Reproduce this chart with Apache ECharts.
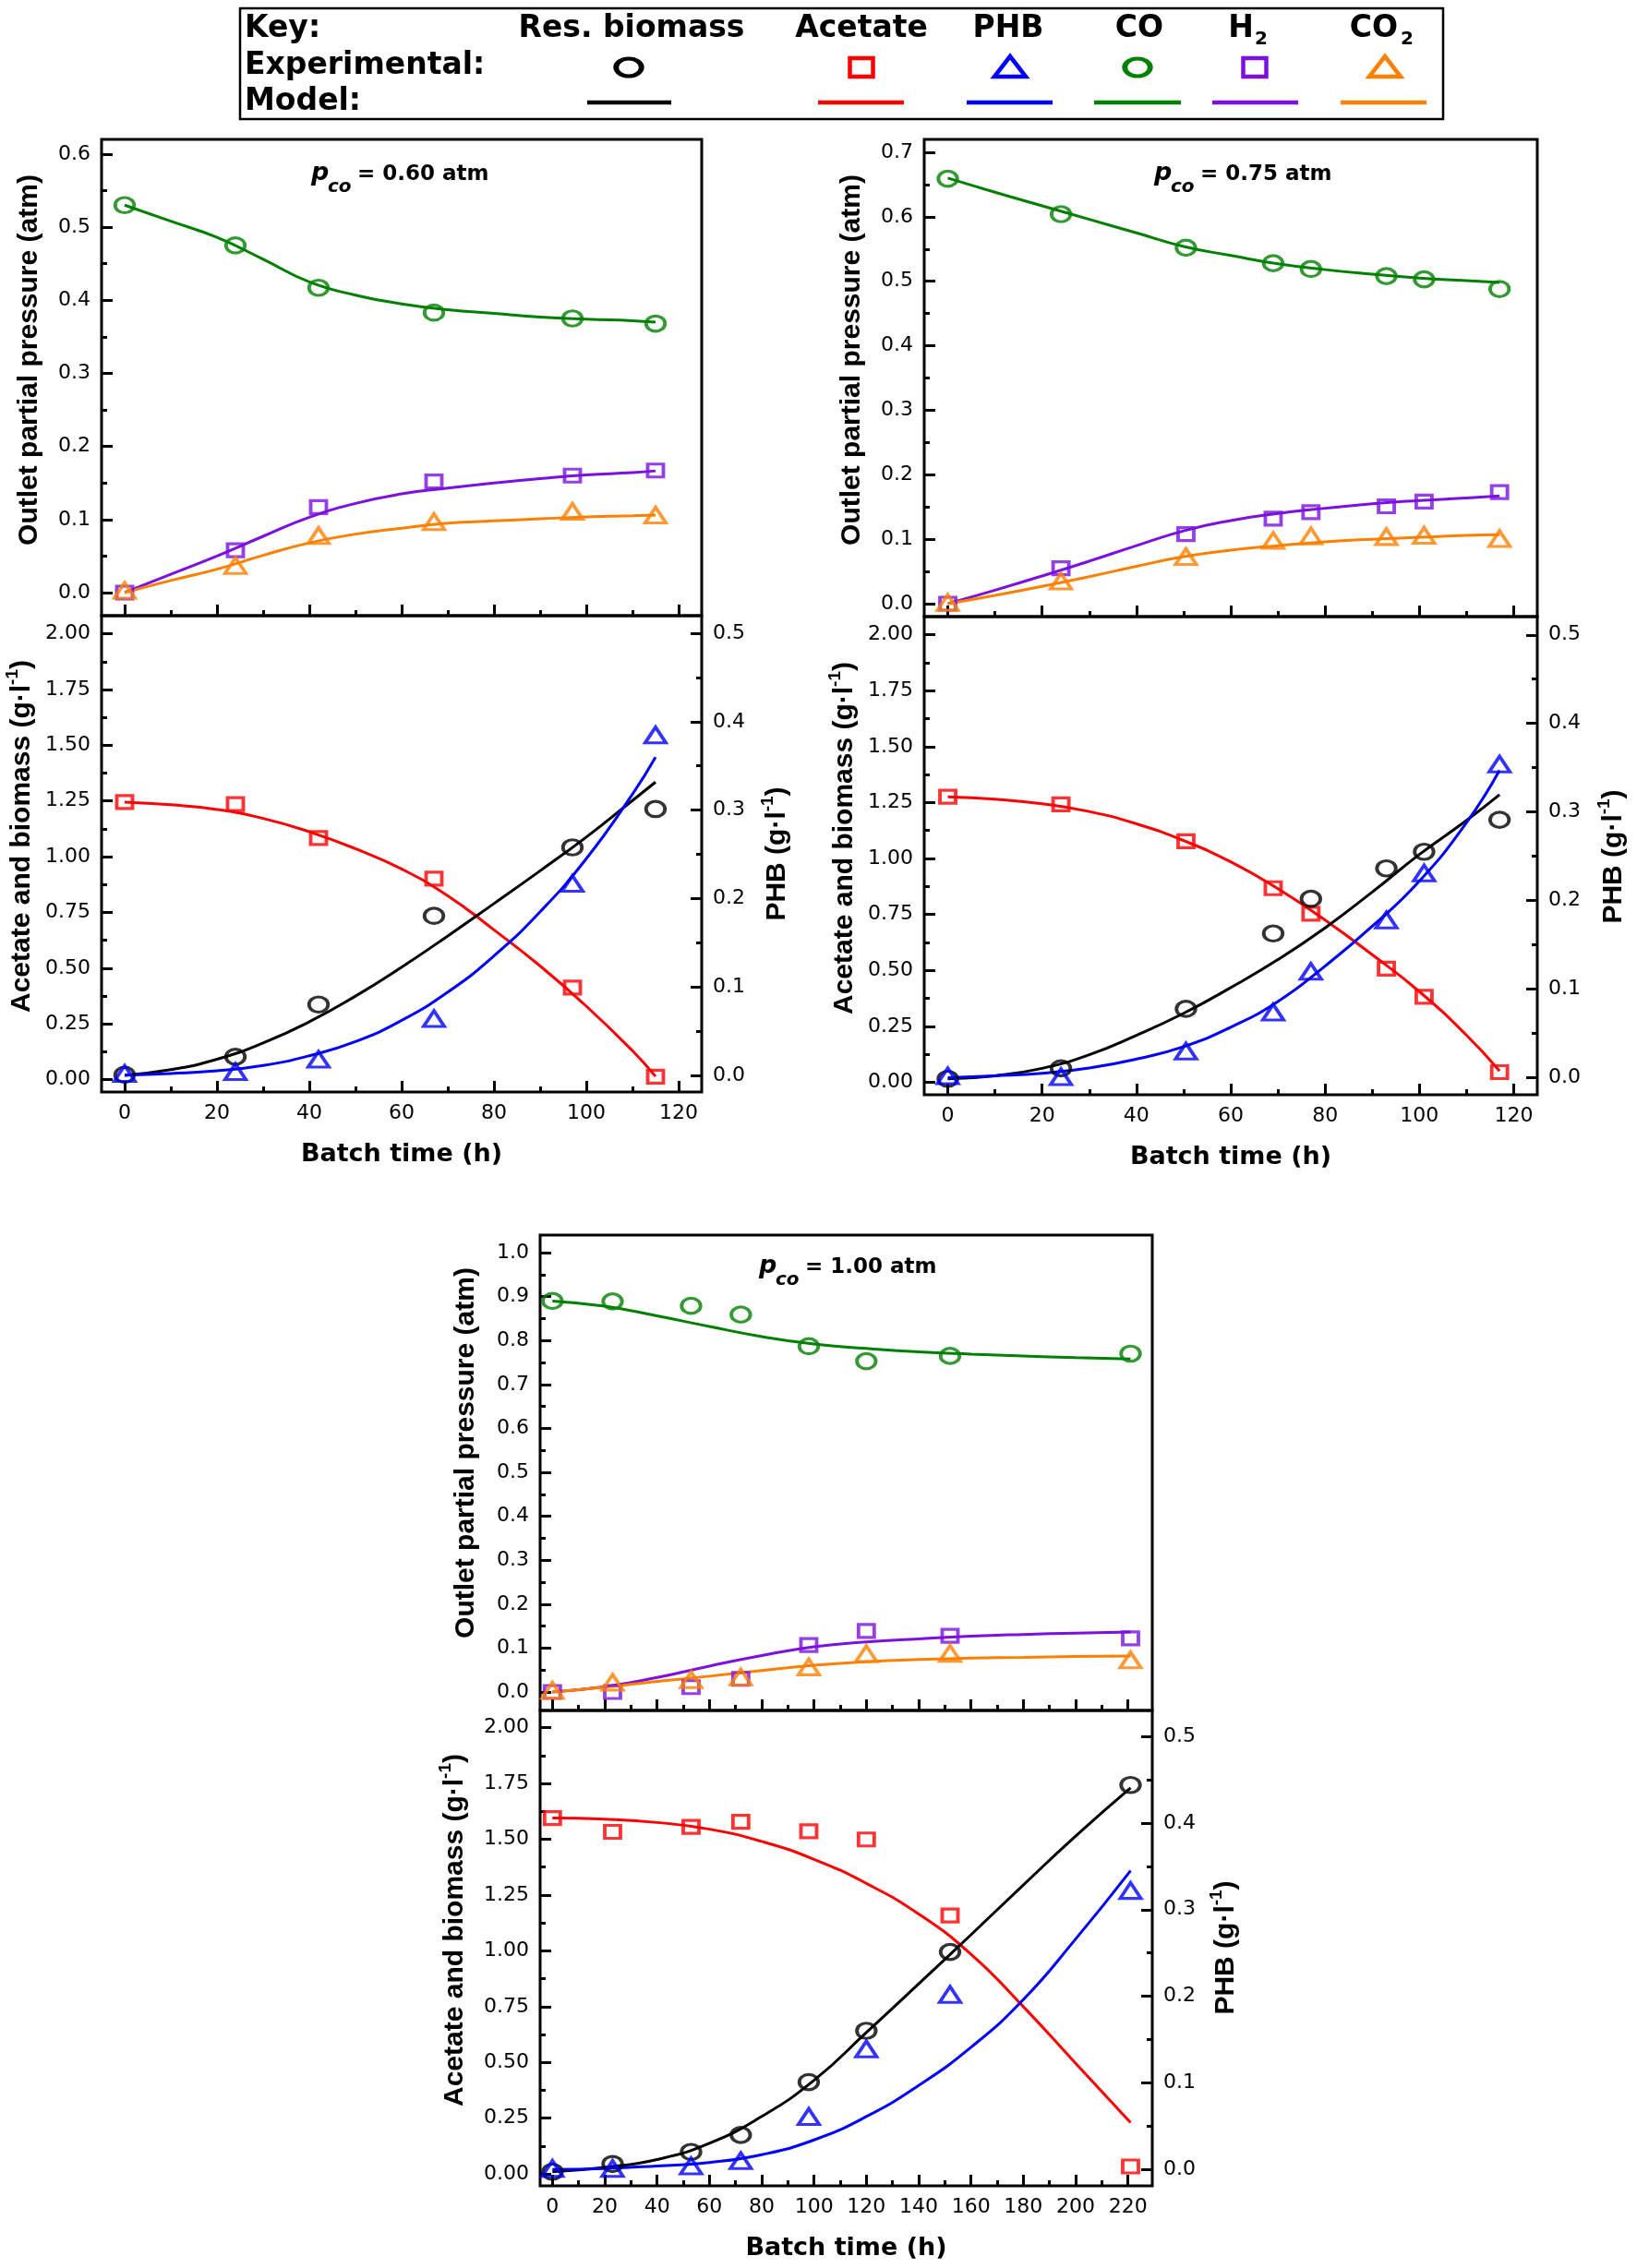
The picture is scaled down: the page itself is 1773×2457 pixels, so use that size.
<!DOCTYPE html>
<html><head><meta charset="utf-8">
<script src="https://cdn.jsdelivr.net/npm/echarts@6/dist/echarts.min.js"></script>
<style>html,body{margin:0;padding:0;background:#fff}#c{width:1773px;height:2457px}</style>
</head><body><div id="c"></div>
<script>
// ================= DATA =================
const pcoLabels = ['0.60', '0.75', '1.00'];

// ---- p_CO = 0.60 atm ----
const expT060 = [0, 24, 42, 67, 97, 115];
const expCO060 = [0.530, 0.475, 0.417, 0.383, 0.375, 0.368];
const expH2060 = [0.000, 0.058, 0.117, 0.152, 0.160, 0.167];
const expCO2060 = [0.003, 0.037, 0.078, 0.097, 0.111, 0.106];
const expAc060 = [1.245, 1.236, 1.084, 0.902, 0.413, 0.014];
const expBio060 = [0.022, 0.103, 0.337, 0.735, 1.042, 1.214];
const expPHB060 = [0.002, 0.004, 0.018, 0.064, 0.217, 0.385];
const modT060 = [0, 10, 20, 30, 40, 50, 60, 70, 80, 90, 100, 110, 115];
const modCO060 = [0.530, 0.508, 0.486, 0.456, 0.425, 0.407, 0.395, 0.387, 0.382, 0.377, 0.374, 0.372, 0.370];
const modH2060 = [0, 0.025, 0.050, 0.077, 0.103, 0.122, 0.135, 0.143, 0.150, 0.156, 0.161, 0.164, 0.1665];
const modCO2060 = [0, 0.0165, 0.032, 0.051, 0.068, 0.080, 0.088, 0.095, 0.098, 0.101, 0.1035, 0.105, 0.106];
const modAc060 = [1.245, 1.233, 1.212, 1.172, 1.112, 1.036, 0.945, 0.825, 0.672, 0.510, 0.330, 0.130, 0.015];
const modBio060 = [0.020, 0.045, 0.092, 0.165, 0.260, 0.375, 0.505, 0.645, 0.790, 0.937, 1.088, 1.252, 1.335];
const modPHB060 = [0.000, 0.002, 0.005, 0.011, 0.022, 0.038, 0.062, 0.094, 0.135, 0.185, 0.245, 0.318, 0.360];

// ---- p_CO = 0.75 atm ----
const expT075 = [0, 24, 50.5, 69, 77, 93, 101, 117];
const expCO075 = [0.659, 0.604, 0.552, 0.528, 0.519, 0.508, 0.503, 0.488];
const expH2075 = [0.000, 0.055, 0.108, 0.132, 0.142, 0.151, 0.1585, 0.173];
const expCO2075 = [0.002, 0.035, 0.073, 0.098, 0.105, 0.104, 0.106, 0.101];
const expAc075 = [1.276, 1.242, 1.077, 0.867, 0.753, 0.508, 0.382, 0.045];
const expBio075 = [0.015, 0.062, 0.328, 0.665, 0.820, 0.956, 1.030, 1.173];
const expPHB075 = [0.002, 0.001, 0.030, 0.074, 0.120, 0.178, 0.231, 0.354];
const modT075 = [0, 10, 20, 30, 40, 50, 60, 70, 80, 90, 100, 110, 117];
const modCO075 = [0.660, 0.638, 0.617, 0.596, 0.575, 0.554, 0.540, 0.527, 0.518, 0.511, 0.505, 0.501, 0.498];
const modH2075 = [0, 0.021, 0.043, 0.066, 0.090, 0.113, 0.129, 0.140, 0.148, 0.155, 0.160, 0.164, 0.167];
const modCO2075 = [0, 0.013, 0.027, 0.042, 0.058, 0.073, 0.083, 0.090, 0.096, 0.100, 0.103, 0.106, 0.107];
const modAc075 = [1.276, 1.265, 1.245, 1.210, 1.155, 1.080, 0.985, 0.865, 0.725, 0.570, 0.405, 0.210, 0.050];
const modBio075 = [0.015, 0.029, 0.062, 0.123, 0.210, 0.308, 0.423, 0.548, 0.690, 0.850, 1.018, 1.170, 1.285];
const modPHB075 = [0, 0.002, 0.005, 0.011, 0.021, 0.035, 0.057, 0.086, 0.126, 0.171, 0.222, 0.288, 0.347];

// ---- p_CO = 1.00 atm ----
const expT100 = [0, 23, 53, 72, 98, 120, 152, 221];
const expCO100 = [0.890, 0.889, 0.879, 0.859, 0.787, 0.753, 0.765, 0.770];
const expH2100 = [0.000, 0.000, 0.011, 0.030, 0.107, 0.139, 0.128, 0.122];
const expCO2100 = [0.004, 0.022, 0.028, 0.034, 0.057, 0.087, 0.088, 0.073];
const expAc100 = [1.595, 1.533, 1.555, 1.578, 1.536, 1.499, 1.158, 0.034];
const expBio100 = [0.010, 0.045, 0.099, 0.175, 0.412, 0.642, 0.995, 1.743];
const expPHB100 = [0.001, 0.001, 0.004, 0.010, 0.061, 0.139, 0.202, 0.322];
const modT100 = [0, 20, 40, 60, 80, 100, 120, 140, 160, 180, 200, 221];
const modCO100 = [0.890, 0.878, 0.856, 0.832, 0.809, 0.792, 0.782, 0.774, 0.769, 0.765, 0.761, 0.758];
const modH2100 = [0, 0.012, 0.033, 0.059, 0.083, 0.103, 0.114, 0.121, 0.127, 0.131, 0.134, 0.1365];
const modCO2100 = [0, 0.011, 0.024, 0.036, 0.049, 0.061, 0.069, 0.074, 0.077, 0.079, 0.081, 0.082];
const modAc100 = [1.595, 1.590, 1.575, 1.545, 1.490, 1.410, 1.302, 1.165, 0.985, 0.750, 0.496, 0.230];
const modBio100 = [0.010, 0.030, 0.065, 0.138, 0.258, 0.420, 0.634, 0.852, 1.072, 1.295, 1.514, 1.730];
const modPHB100 = [0, 0.001, 0.004, 0.008, 0.017, 0.034, 0.061, 0.097, 0.141, 0.196, 0.266, 0.345];

// ---- tick values ----
const xTicks120 = [0, 20, 40, 60, 80, 100, 120];
const xMinor120 = [10, 30, 50, 70, 90, 110];
const xTicks220 = [0, 20, 40, 60, 80, 100, 120, 140, 160, 180, 200, 220];
const xMinor220 = [10, 30, 50, 70, 90, 110, 130, 150, 170, 190, 210];
const yTicks060 = [0, 0.1, 0.2, 0.3, 0.4, 0.5, 0.6];
const yMinor060 = [0.05, 0.15, 0.25, 0.35, 0.45, 0.55];
const yTicks075 = [0, 0.1, 0.2, 0.3, 0.4, 0.5, 0.6, 0.7];
const yMinor075 = [0.05, 0.15, 0.25, 0.35, 0.45, 0.55, 0.65];
const yTicks100 = [0, 0.1, 0.2, 0.3, 0.4, 0.5, 0.6, 0.7, 0.8, 0.9, 1.0];
const yMinor100 = [0.05, 0.15, 0.25, 0.35, 0.45, 0.55, 0.65, 0.75, 0.85, 0.95];
const yTicksAcBio = [0, 0.25, 0.5, 0.75, 1.0, 1.25, 1.5, 1.75, 2.0];
const yMinorAcBio = [0.125, 0.375, 0.625, 0.875, 1.125, 1.375, 1.625, 1.875];
const yTicksPHB = [0, 0.1, 0.2, 0.3, 0.4, 0.5];
const yMinorPHB = [0.05, 0.15, 0.25, 0.35, 0.45];

// ---- texts ----
const txtOutlet = 'Outlet partial pressure (atm)';
const txtAcBio = 'Acetate and biomass (g·l';
const txtPHB = 'PHB (g·l';
const txtBatch = 'Batch time (h)';
const keyHeaders = ['Res. biomass', 'Acetate', 'PHB', 'CO', 'H', 'CO'];

// ================= STYLE / LAYOUT =================
const FONT = 'DejaVu Sans';
const TFONT = 'Liberation Sans';
const COL = { bio: '#000000', ac: '#ff0000', phb: '#0000ff', co: '#008000', h2: '#7b10e0', co2: '#ff8000' };
const SYM = { circle: [20.5, 16.5], rect: [17, 14], triangle: [22.5, 17] };

const PANELS = [
  { exp: { t: expT060, co: expCO060, h2: expH2060, co2: expCO2060, ac: expAc060, bio: expBio060, phb: expPHB060 },
    mod: { t: modT060, co: modCO060, h2: modH2060, co2: modCO2060, ac: modAc060, bio: modBio060, phb: modPHB060 },
    xT: xTicks120, xM: xMinor120, yT: yTicks060, yM: yMinor060 },
  { exp: { t: expT075, co: expCO075, h2: expH2075, co2: expCO2075, ac: expAc075, bio: expBio075, phb: expPHB075 },
    mod: { t: modT075, co: modCO075, h2: modH2075, co2: modCO2075, ac: modAc075, bio: modBio075, phb: modPHB075 },
    xT: xTicks120, xM: xMinor120, yT: yTicks075, yM: yMinor075 },
  { exp: { t: expT100, co: expCO100, h2: expH2100, co2: expCO2100, ac: expAc100, bio: expBio100, phb: expPHB100 },
    mod: { t: modT100, co: modCO100, h2: modH2100, co2: modCO2100, ac: modAc100, bio: modBio100, phb: modPHB100 },
    xT: xTicks220, xM: xMinor220, yT: yTicks100, yM: yMinor100 }
];

const LAYOUT = [
  { left: 110, width: 650, top: 151, mid: 667, bottom: 1183, x: [-5, 125], yTop: [-0.0316, 0.620], yL: [-0.055, 2.081], yR: [-0.019, 0.520],
    title: [337, 197], outlet: [32, 390], acet: [24, 906], phb: [842, 925] },
  { left: 1001, width: 664, top: 151, mid: 668, bottom: 1186, x: [-5, 125], yTop: [-0.020, 0.720], yL: [-0.056, 2.081], yR: [-0.0193, 0.5206],
    title: [1250, 197], outlet: [923, 390], acet: [915, 908], phb: [1748, 928] },
  { left: 585, width: 663, top: 1338, mid: 1853, bottom: 2368, x: [-4.7, 229.3], yTop: [-0.042, 1.040], yL: [-0.053, 2.077], yR: [-0.019, 0.530],
    title: [822, 1381], outlet: [505, 1574], acet: [493, 2091], phb: [1328, 2110] }
];

// ================= BUILD =================
const grids = [], xAxes = [], yAxes = [], series = [], gfx = [];
const zip = (xs, ys) => xs.map((x, i) => [x, ys[i]]);

function addAxis(kind, gridIndex, range, majors, minors, o) {
  const base = {
    type: 'value', gridIndex, min: range[0], max: range[1], position: o.position,
    axisLine: { show: false, onZero: false }, splitLine: { show: false }, minorTick: { show: false },
    axisPointer: { show: false }, silent: true
  };
  const main = Object.assign({}, base, {
    axisTick: { show: true, inside: true, length: 12, lineStyle: { color: '#000', width: 3 }, customValues: majors },
    axisLabel: { show: !!o.labels, customValues: majors, formatter: o.fmt, fontFamily: FONT, fontSize: 22, color: '#000', margin: 12 }
  }, o.extra || {});
  const minor = Object.assign({}, base, {
    axisTick: { show: true, inside: true, length: 6, lineStyle: { color: '#000', width: 3 }, customValues: minors },
    axisLabel: { show: false }
  });
  const arr = kind === 'x' ? xAxes : yAxes;
  arr.push(main);
  const idx = arr.length - 1;
  arr.push(minor);
  return idx;
}
function lineS(xi, yi, T, V, color) {
  return { type: 'line', xAxisIndex: xi, yAxisIndex: yi, data: zip(T, V), smooth: 0.5,
    showSymbol: false, symbol: 'none', lineStyle: { color, width: 3 }, z: 2, silent: true, animation: false };
}
function scatS(xi, yi, T, V, color, shape) {
  return { type: 'scatter', xAxisIndex: xi, yAxisIndex: yi, data: zip(T, V), symbol: shape, symbolSize: SYM[shape],
    itemStyle: { color: 'rgba(0,0,0,0)', borderColor: color, borderWidth: 3.5 }, z: 3, clip: false, silent: true, animation: false };
}
function T(x, y, text, s, extra) {
  const st = Object.assign({ text, fill: '#000', fontFamily: FONT, fontSize: 21, align: 'left', verticalAlign: 'middle',
    textAlign: s && s.align || 'left', textVerticalAlign: 'middle' }, s || {});
  return Object.assign({ type: 'text', x, y, silent: true, style: st, z: 10 }, extra || {});
}
const fmt1 = v => v.toFixed(1), fmt2 = v => v.toFixed(2), fmt0 = v => String(Math.round(v));

PANELS.forEach((P, i) => {
  const L = LAYOUT[i];
  // top pane (gases)
  const gTop = grids.length;
  grids.push({ left: L.left, top: L.top, width: L.width, height: L.mid - L.top, show: true, borderColor: '#000', borderWidth: 3, backgroundColor: 'transparent' });
  const xTop = addAxis('x', gTop, L.x, P.xT, P.xM, { position: 'bottom', labels: false });
  const yTop = addAxis('y', gTop, L.yTop, P.yT, P.yM, { position: 'left', labels: true, fmt: fmt1 });
  series.push(lineS(xTop, yTop, P.mod.t, P.mod.co, COL.co));
  series.push(lineS(xTop, yTop, P.mod.t, P.mod.h2, COL.h2));
  series.push(lineS(xTop, yTop, P.mod.t, P.mod.co2, COL.co2));
  series.push(scatS(xTop, yTop, P.exp.t, P.exp.co, COL.co, 'circle'));
  series.push(scatS(xTop, yTop, P.exp.t, P.exp.h2, COL.h2, 'rect'));
  series.push(scatS(xTop, yTop, P.exp.t, P.exp.co2, COL.co2, 'triangle'));
  // bottom pane (liquid)
  const gBot = grids.length;
  grids.push({ left: L.left, top: L.mid, width: L.width, height: L.bottom - L.mid, show: true, borderColor: '#000', borderWidth: 3, backgroundColor: 'transparent' });
  const xBot = addAxis('x', gBot, L.x, P.xT, P.xM, { position: 'bottom', labels: true, fmt: fmt0,
    extra: { name: txtBatch, nameLocation: 'middle', nameGap: 54, nameTextStyle: { fontFamily: FONT, fontWeight: 'bold', fontSize: 27, color: '#000' } } });
  const yL = addAxis('y', gBot, L.yL, yTicksAcBio, yMinorAcBio, { position: 'left', labels: true, fmt: fmt2 });
  const yR = addAxis('y', gBot, L.yR, yTicksPHB, yMinorPHB, { position: 'right', labels: true, fmt: fmt1 });
  series.push(lineS(xBot, yL, P.mod.t, P.mod.ac, COL.ac));
  series.push(lineS(xBot, yL, P.mod.t, P.mod.bio, COL.bio));
  series.push(lineS(xBot, yR, P.mod.t, P.mod.phb, COL.phb));
  series.push(scatS(xBot, yL, P.exp.t, P.exp.ac, COL.ac, 'rect'));
  series.push(scatS(xBot, yL, P.exp.t, P.exp.bio, COL.bio, 'circle'));
  series.push(scatS(xBot, yR, P.exp.t, P.exp.phb, COL.phb, 'triangle'));

  // panel title  p_CO = x atm
  const [tx, tb] = L.title;
  gfx.push(T(tx, tb - 0.35 * 27, 'p', { fontSize: 27, fontWeight: 'bold', fontStyle: 'italic' }));
  gfx.push(T(tx + 18, tb + 13 - 0.35 * 20, 'co', { fontSize: 20, fontWeight: 'bold', fontStyle: 'italic' }));
  gfx.push(T(tx + 50, tb - 0.35 * 23, '= ' + pcoLabels[i] + ' atm', { fontSize: 23, fontWeight: 'bold' }));

  // vertical axis titles
  const vst = { fontFamily: TFONT, fontWeight: 'bold', fontSize: 30, lineHeight: 40, align: 'center', textAlign: 'center' };
  const rich = { s: { fontFamily: TFONT, fontWeight: 'bold', fontSize: 19, lineHeight: 20, verticalAlign: 'top' } };
  gfx.push(T(L.outlet[0], L.outlet[1], txtOutlet, Object.assign({}, vst), { rotation: Math.PI / 2 }));
  gfx.push(T(L.acet[0], L.acet[1], txtAcBio + '{s|-1})', Object.assign({ rich }, vst), { rotation: Math.PI / 2 }));
  gfx.push(T(L.phb[0], L.phb[1], txtPHB + '{s|-1})', Object.assign({ rich }, vst), { rotation: Math.PI / 2 }));
});

// ---- key box ----
gfx.push({ type: 'rect', silent: true, shape: { x: 260, y: 9, width: 1303, height: 120 }, style: { fill: 'none', stroke: '#000', lineWidth: 2.5 } });
const KB = { fontSize: 33, fontWeight: 'bold' };
gfx.push(T(265, 43 - 0.35 * 33, 'Key:', KB));
gfx.push(T(265, 83 - 0.35 * 33, 'Experimental:', KB));
gfx.push(T(265, 122 - 0.35 * 33, 'Model:', KB));
const hdrX = [684, 933, 1092, 1234, 1344, 1488];
keyHeaders.forEach((h, i) => gfx.push(T(hdrX[i], 43 - 0.35 * 33, h, Object.assign({ align: 'center', textAlign: 'center' }, KB))));
gfx.push(T(1359, 50 - 0.35 * 20, '2', { fontSize: 20, fontWeight: 'bold' }));
gfx.push(T(1517, 50 - 0.35 * 20, '2', { fontSize: 20, fontWeight: 'bold' }));
// experimental symbols
const mY = 73;
function kCircle(cx, col) {
  gfx.push({ type: 'circle', silent: true, x: cx, y: mY, scaleX: 1.45, shape: { cx: 0, cy: 0, r: 9.5 }, style: { fill: 'none', stroke: col, lineWidth: 4 } });
}
function kRect(cx, col) {
  gfx.push({ type: 'rect', silent: true, shape: { x: cx - 12.5, y: mY - 10, width: 25, height: 20 }, style: { fill: 'none', stroke: col, lineWidth: 4.5 } });
}
function kTri(cx, col) {
  gfx.push({ type: 'polygon', silent: true, shape: { points: [[cx, mY - 12], [cx + 17, mY + 10], [cx - 17, mY + 10]] }, style: { fill: 'none', stroke: col, lineWidth: 4.5, lineJoin: 'miter' } });
}
kCircle(681, COL.bio); kRect(933, COL.ac); kTri(1094, COL.phb); kCircle(1232, COL.co); kRect(1359, COL.h2); kTri(1500, COL.co2);
// model lines
const lineSeg = [[636, 727, COL.bio], [886, 979, COL.ac], [1047, 1140, COL.phb], [1185, 1279, COL.co], [1313, 1406, COL.h2], [1452, 1545, COL.co2]];
lineSeg.forEach(s => gfx.push({ type: 'line', silent: true, shape: { x1: s[0], y1: 111, x2: s[1], y2: 111 }, style: { stroke: s[2], lineWidth: 4.5 } }));

const chart = echarts.init(document.getElementById('c'), null, { renderer: 'canvas', width: 1773, height: 2457 });
chart.setOption({
  animation: false,
  backgroundColor: '#ffffff',
  grid: grids,
  xAxis: xAxes,
  yAxis: yAxes,
  series,
  graphic: { elements: gfx }
});
</script>
</body></html>
